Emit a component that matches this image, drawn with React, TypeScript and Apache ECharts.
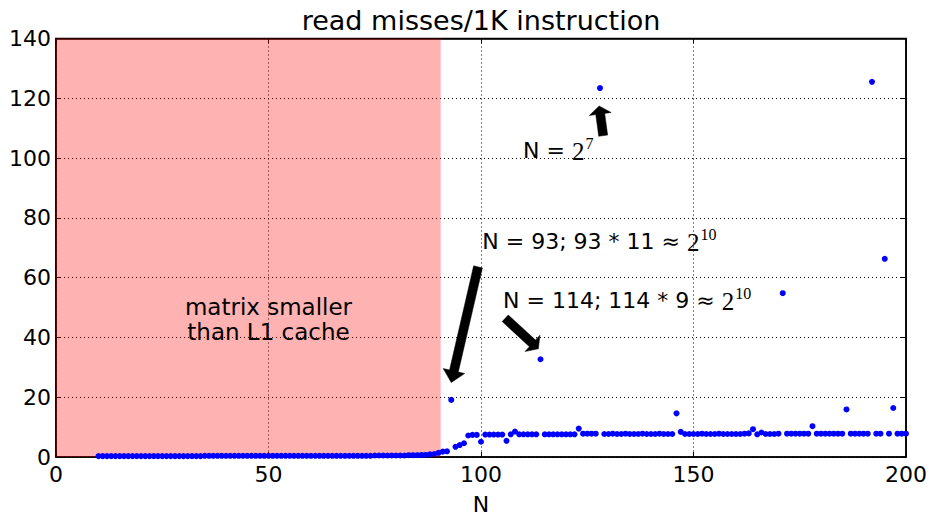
import React, { useEffect, useRef } from "react";
import * as echarts from "echarts";

// ---------- data ----------
const startN = 10; // first matrix size N in the run (one point per N)
const readMisses = [
  // N 10-19
  0.3, 0.3, 0.3, 0.3, 0.3, 0.3, 0.3, 0.3, 0.3, 0.3,
  // N 20-29
  0.3, 0.3, 0.3, 0.3, 0.3, 0.3, 0.3, 0.3, 0.3, 0.3,
  // N 30-39
  0.3, 0.3, 0.3, 0.3, 0.3, 0.4, 0.4, 0.4, 0.4, 0.4,
  // N 40-49
  0.4, 0.4, 0.4, 0.4, 0.4, 0.4, 0.4, 0.4, 0.4, 0.4,
  // N 50-59
  0.4, 0.4, 0.4, 0.4, 0.4, 0.4, 0.4, 0.4, 0.4, 0.4,
  // N 60-69
  0.4, 0.4, 0.4, 0.4, 0.4, 0.4, 0.4, 0.4, 0.4, 0.4,
  // N 70-79
  0.4, 0.4, 0.4, 0.4, 0.4, 0.5, 0.5, 0.5, 0.5, 0.5,
  // N 80-89
  0.5, 0.5, 0.5, 0.6, 0.6, 0.6, 0.7, 0.7, 0.9, 1.0,
  // N 90-99
  1.4, 1.8, 1.9, 19.1, 3.4, 4.0, 4.6, 7.2, 7.4, 7.4,
  // N 100-109
  5.1, 7.5, 7.5, 7.5, 7.5, 7.5, 5.4, 7.6, 8.5, 7.6,
  // N 110-119
  7.6, 7.6, 7.6, 7.6, 32.7, 7.6, 7.6, 7.6, 7.6, 7.6,
  // N 120-129
  7.6, 7.6, 7.6, 9.5, 7.8, 7.8, 7.8, 7.8, 123.4, 7.7,
  // N 130-139
  7.7, 7.8, 7.7, 7.7, 7.8, 7.7, 7.7, 7.7, 7.8, 7.7,
  // N 140-149
  7.7, 7.7, 7.8, 7.7, 7.7, 7.7, 14.6, 8.4, 7.7, 7.7,
  // N 150-159
  7.7, 7.7, 7.8, 7.7, 7.7, 7.7, 7.8, 7.7, 7.7, 7.7,
  // N 160-169
  7.7, 7.7, 7.8, 7.9, 9.3, 7.6, 8.2, 7.7, 7.7, 7.7,
  // N 170-179
  7.8, 54.8, 7.8, 7.8, 7.8, 7.8, 7.8, 7.8, 10.3, 7.8,
  // N 180-189
  7.8, 7.8, 7.8, 7.8, 7.8, 7.8, 15.9, 7.8, 7.8, 7.8,
  // N 190-199
  7.8, 7.8, 125.5, 7.8, 7.8, 66.3, 7.8, 16.4, 7.8, 7.8,
  // N 200
  7.8,
];

const xRange = [0, 200];
const xStep = 50;
const yRange = [0, 140];
const yStep = 20;
const l1LimitN = 90.5; // matrix fits in L1 below this N

const titleText = "read misses/1K instruction";
const xName = "N";
const regionLines = ["matrix smaller", "than L1 cache"];

// annotation texts: prefix, base and exponent of the power of two
const annotationPrefixes = ["N = ", "N = 93; 93 * 11 ≈ ", "N = 114; 114 * 9 ≈ "];
const annotationBases = ["2", "2", "2"];
const annotationExponents = ["7", "10", "10"];
// anchors in data units
const annotationAnchors: number[][] = [
  [109.9, 102.4],
  [100.3, 72.2],
  [105.2, 52.2],
];
const arrowTails: number[][] = [
  [128.75, 107.5],
  [99.3, 63.6],
  [105.7, 46.4],
];
const arrowTips: number[][] = [
  [127.8, 117.4],
  [93.0, 24.9],
  [113.5, 36.2],
];
const regionLabelAnchor = [50, 45.9];

// ---------- styles ----------
const FONT = "DejaVu Sans";
const MATH_FONT = "Liberation Serif";
const TEXT_SIZE = 22;
const BASE_SIZE = 25;
const SUP_SIZE = 16;

function measure(text: string, size: number, family: string): number {
  const c = document.createElement("canvas");
  const ctx = c.getContext("2d")!;
  ctx.font = `${size}px "${family}"`;
  return ctx.measureText(text).width;
}

export default function App() {
  const ref = useRef<HTMLDivElement>(null);

  useEffect(() => {
    const el = ref.current!;
    const chart = echarts.init(el, null, { renderer: "svg" });

    const points = readMisses.map((v, i) => [startN + i, v]);

    const axisCommonX = {
      type: "value",
      min: xRange[0],
      max: xRange[1],
      interval: xStep,
    };
    const axisCommonY = {
      type: "value",
      min: yRange[0],
      max: yRange[1],
      interval: yStep,
    };
    const blackLine = { color: "#000", width: 1.5 };
    const tickLine = { color: "#000", width: 1 };

    chart.setOption({
      animation: false,
      backgroundColor: "#fff",
      grid: {
        left: 56,
        right: 27,
        top: 38.5,
        bottom: 57.5,
        show: true,
        borderColor: "#000",
        borderWidth: 1.5,
        backgroundColor: "transparent",
      },
      xAxis: [
        {
          ...axisCommonX,
          position: "bottom",
          name: xName,
          nameLocation: "middle",
          nameGap: 36,
          nameTextStyle: { color: "#000", fontSize: TEXT_SIZE, fontFamily: FONT },
          axisLine: { show: true, onZero: false, lineStyle: blackLine },
          axisTick: { show: true, inside: true, length: 5, lineStyle: tickLine },
          axisLabel: { color: "#000", fontSize: TEXT_SIZE, fontFamily: FONT, margin: 6 },
          splitLine: { show: true, lineStyle: { color: "#000", width: 1, type: [1, 3] } },
        },
        {
          ...axisCommonX,
          position: "top",
          axisLine: { show: true, onZero: false, lineStyle: blackLine },
          axisTick: { show: true, inside: true, length: 5, lineStyle: tickLine },
          axisLabel: { show: false },
          splitLine: { show: false },
        },
      ],
      yAxis: [
        {
          ...axisCommonY,
          position: "left",
          axisLine: { show: true, onZero: false, lineStyle: blackLine },
          axisTick: { show: true, inside: true, length: 5, lineStyle: tickLine },
          axisLabel: { color: "#000", fontSize: TEXT_SIZE, fontFamily: FONT, margin: 5 },
          splitLine: { show: true, lineStyle: { color: "#000", width: 1, type: [1, 3] } },
        },
        {
          ...axisCommonY,
          position: "right",
          axisLine: { show: true, onZero: false, lineStyle: blackLine },
          axisTick: { show: true, inside: true, length: 5, lineStyle: tickLine },
          axisLabel: { show: false },
          splitLine: { show: false },
        },
      ],
      series: [
        {
          type: "scatter",
          xAxisIndex: 0,
          yAxisIndex: 0,
          data: points,
          symbol: "circle",
          symbolSize: 6,
          itemStyle: { color: "#0000ff", opacity: 1 },
          z: 5,
          markArea: {
            silent: true,
            itemStyle: { color: "rgba(255,0,0,0.3)" },
            data: [[{ xAxis: xRange[0], yAxis: yRange[0] }, { xAxis: l1LimitN, yAxis: yRange[1] }]],
          },
        },
      ],
    });

    const toPx = (p: number[]) =>
      chart.convertToPixel({ xAxisIndex: 0, yAxisIndex: 0 }, p) as number[];

    const graphics: any[] = [];

    // title centred over the plot area
    const leftTop = toPx([xRange[0], yRange[1]]);
    const rightTop = toPx([xRange[1], yRange[1]]);
    graphics.push({
      type: "text",
      x: (leftTop[0] + rightTop[0]) / 2,
      y: leftTop[1] - 18,
      style: {
        text: titleText,
        fill: "#000",
        fontSize: 27,
        fontFamily: FONT,
        align: "center",
        verticalAlign: "middle",
      },
    });

    // region label
    const rl = toPx(regionLabelAnchor);
    graphics.push({
      type: "text",
      x: rl[0],
      y: rl[1],
      z: 10,
      style: {
        text: regionLines.join("\n"),
        fill: "#000",
        fontSize: 23,
        fontFamily: FONT,
        lineHeight: 25,
        align: "center",
        verticalAlign: "middle",
      },
    });

    annotationPrefixes.forEach((prefix, i) => {
      const p = toPx(annotationAnchors[i]);
      const w1 = measure(prefix, TEXT_SIZE, FONT);
      const w2 = measure(annotationBases[i], BASE_SIZE, MATH_FONT);
      graphics.push({
        type: "text",
        x: p[0],
        y: p[1],
        z: 10,
        style: {
          text: prefix,
          fill: "#000",
          fontSize: TEXT_SIZE,
          fontFamily: FONT,
          align: "left",
          verticalAlign: "middle",
        },
      });
      graphics.push({
        type: "text",
        x: p[0] + w1,
        y: p[1] + 1,
        z: 10,
        style: {
          text: annotationBases[i],
          fill: "#000",
          fontSize: BASE_SIZE,
          fontFamily: MATH_FONT,
          align: "left",
          verticalAlign: "middle",
        },
      });
      graphics.push({
        type: "text",
        x: p[0] + w1 + w2 + 1,
        y: p[1] - 7,
        z: 10,
        style: {
          text: annotationExponents[i],
          fill: "#000",
          fontSize: SUP_SIZE,
          fontFamily: MATH_FONT,
          align: "left",
          verticalAlign: "middle",
        },
      });
    });

    // arrows (shaft + wedge head)
    const shaftHalf = 4.5;
    const headHalf = 11;
    arrowTails.forEach((tail, i) => {
      const a = toPx(tail);
      const b = toPx(arrowTips[i]);
      const dx = b[0] - a[0];
      const dy = b[1] - a[1];
      const len = Math.hypot(dx, dy);
      const ux = dx / len;
      const uy = dy / len;
      const nx = -uy;
      const ny = ux;
      const headLen = Math.max(8, len * 0.1);
      const bx = b[0] - ux * headLen;
      const by = b[1] - uy * headLen;
      graphics.push({
        type: "polygon",
        z: 10,
        shape: {
          points: [
            [a[0] + nx * shaftHalf, a[1] + ny * shaftHalf],
            [bx + nx * shaftHalf, by + ny * shaftHalf],
            [bx + nx * headHalf, by + ny * headHalf],
            [b[0], b[1]],
            [bx - nx * headHalf, by - ny * headHalf],
            [bx - nx * shaftHalf, by - ny * shaftHalf],
            [a[0] - nx * shaftHalf, a[1] - ny * shaftHalf],
          ],
        },
        style: { fill: "#000", stroke: "#000", lineWidth: 0.5 },
      });
    });

    chart.setOption({ graphic: graphics });

    return () => chart.dispose();
  }, []);

  return (
    <div
      ref={ref}
      style={{ position: "fixed", left: 0, top: 0, width: 933, height: 520 }}
    />
  );
}
